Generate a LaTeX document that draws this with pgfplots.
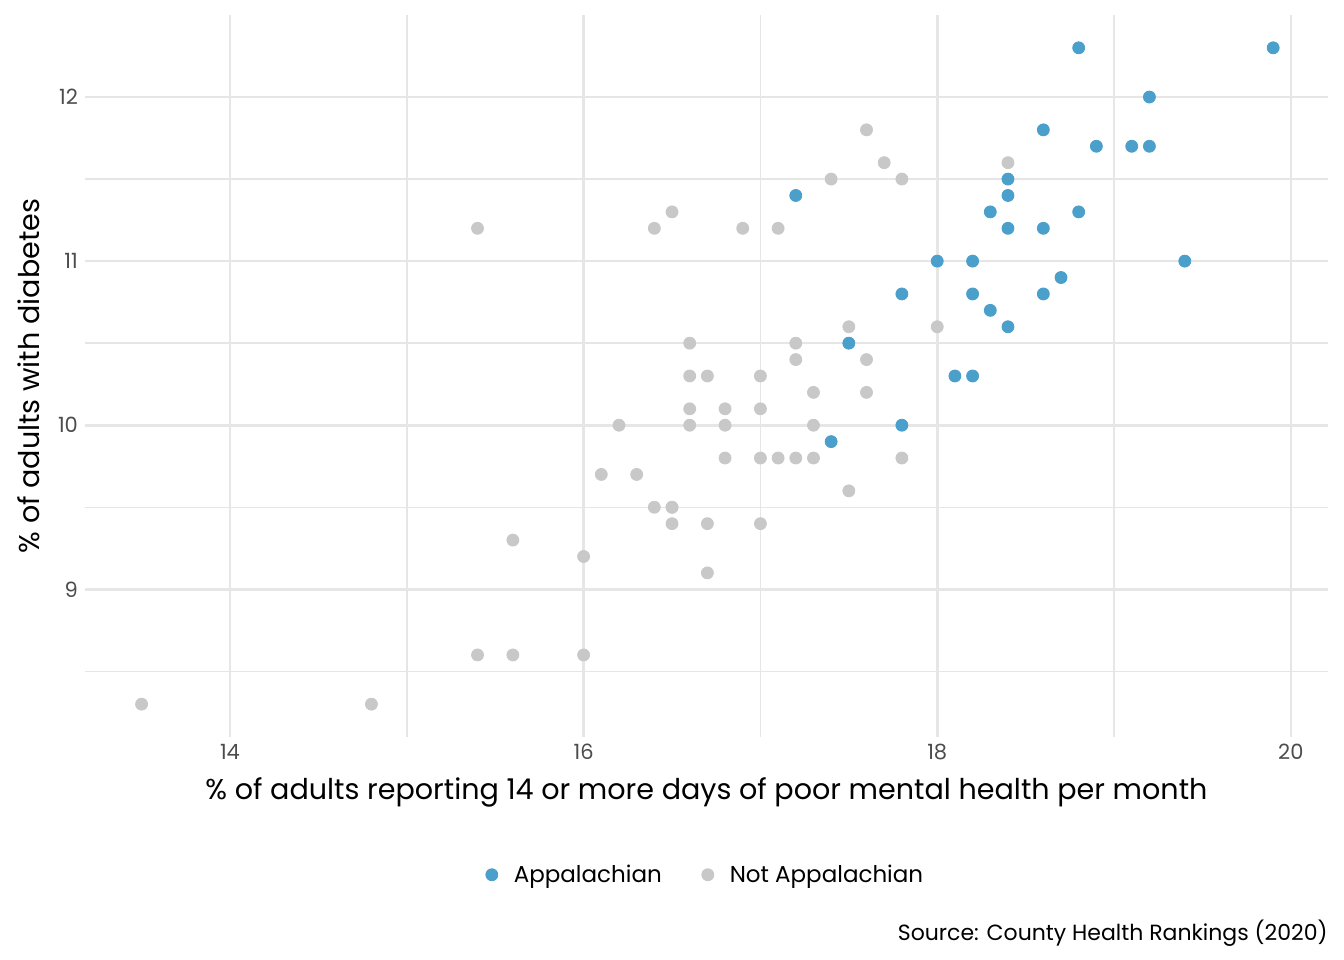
\documentclass[border=0pt]{standalone}
\usepackage{pgfplots}
\pgfplotsset{compat=1.18}
\usepackage{fontspec}
\setmainfont{Poppins}
\definecolor{appblue}{HTML}{4A9FCB}
\definecolor{notgrey}{HTML}{C8C8C8}
\definecolor{gridc}{HTML}{E6E6E6}
\begin{document}
\begin{tikzpicture}
\begin{axis}[name=ax, scale only axis, width=621.5pt, height=361pt,
 xmin=13.18, xmax=20.21, ymin=8.10, ymax=12.5,
 xtick={14,16,18,20}, ytick={9,10,11,12},
 minor xtick={15,17,19}, minor ytick={8.5,9.5,10.5,11.5},
 grid=both, major grid style={gridc, line width=1.3pt}, minor grid style={gridc, line width=0.7pt},
 axis line style={draw=none}, tick style={draw=none},
 ticklabel style={font=\fontsize{10.5}{12}\selectfont, text=black!70},
 /pgf/number format/assume math mode=true,
 xlabel={\% of adults reporting 14 or more days of poor mental health per month},
 ylabel={\% of adults with diabetes},
 label style={font=\fontsize{14.3}{16}\selectfont},
 xlabel style={yshift=-2pt}, ylabel style={yshift=2pt},
 legend style={at={(0.5,-0.165)}, anchor=north, draw=none, legend columns=2,
   font=\fontsize{11.5}{13}\selectfont,
   /tikz/every odd column/.append style={column sep=6pt},
   /tikz/every even column/.append style={column sep=18pt}},
 legend cell align=left,
]
\addplot[only marks, mark=*, mark size=3pt, mark options={draw=appblue, fill=appblue}] coordinates {
(18.8,12.3)(19.9,12.3)(19.2,12.0)(18.6,11.8)(18.9,11.7)(19.1,11.7)(19.2,11.7)
(18.4,11.5)(18.4,11.4)(17.2,11.4)(18.3,11.3)(18.8,11.3)(18.4,11.2)(18.6,11.2)
(18.0,11.0)(18.2,11.0)(19.4,11.0)(18.7,10.9)(17.8,10.8)(18.2,10.8)(18.6,10.8)
(18.3,10.7)(18.4,10.6)(17.5,10.5)(18.1,10.3)(18.2,10.3)(17.8,10.0)(17.4,9.9)
};
\addlegendentry{Appalachian}
\addplot[only marks, mark=*, mark size=3pt, mark options={draw=notgrey, fill=notgrey}] coordinates {
(17.6,11.8)(17.7,11.6)(18.4,11.6)(17.4,11.5)(17.8,11.5)(16.5,11.3)(15.4,11.2)
(16.4,11.2)(16.9,11.2)(17.1,11.2)(17.5,10.6)(18.0,10.6)(16.6,10.5)(17.2,10.5)
(17.2,10.4)(17.6,10.4)(16.6,10.3)(16.7,10.3)(17.0,10.3)(17.3,10.2)(17.6,10.2)
(16.6,10.1)(16.8,10.1)(17.0,10.1)(16.2,10.0)(16.6,10.0)(16.8,10.0)(17.3,10.0)
(16.8,9.8)(17.0,9.8)(17.1,9.8)(17.2,9.8)(17.3,9.8)(17.8,9.8)(16.1,9.7)(16.3,9.7)
(17.5,9.6)(16.4,9.5)(16.5,9.5)(16.5,9.5)(16.5,9.4)(16.7,9.4)(17.0,9.4)(15.6,9.3)
(16.0,9.2)(16.7,9.1)(15.4,8.6)(15.6,8.6)(16.0,8.6)(13.5,8.3)(14.8,8.3)
};
\addlegendentry{Not Appalachian}
\end{axis}
\node[anchor=base east, inner sep=0pt, font=\fontsize{11}{12}\selectfont] at ([yshift=-102pt]ax.south east) {Source: County Health Rankings (2020)};
\pgfresetboundingbox
\path ([xshift=-42.5pt,yshift=-111.5pt]ax.south west) rectangle ([xshift=8pt,yshift=7.5pt]ax.north east);
\end{tikzpicture}
\end{document}
